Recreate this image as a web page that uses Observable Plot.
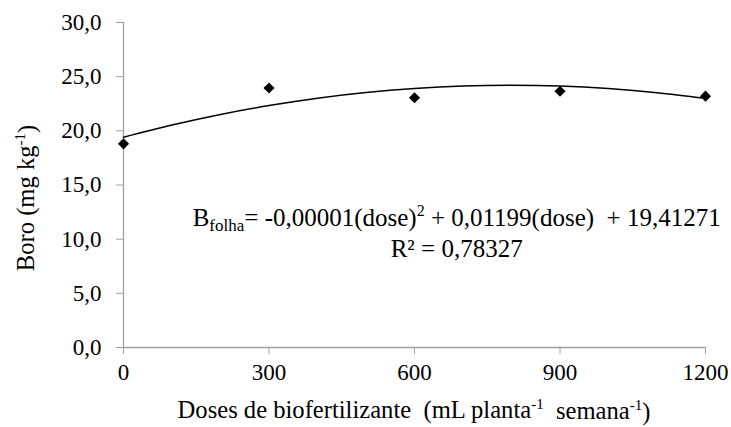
<!DOCTYPE html>
<html><head><meta charset="utf-8">
<script src="https://cdn.jsdelivr.net/npm/d3@7"></script>
<script src="https://cdn.jsdelivr.net/npm/@observablehq/plot@0.6"></script>
<style>
body{margin:0;background:#fff;}
svg, svg text{font-family:'Liberation Serif','Times New Roman',serif !important;}
</style>
</head><body><div id="chart"></div>
<script>
// Observed data
const doses = [0, 300, 600, 900, 1200];
const boro = [18.8, 23.95, 23.05, 23.65, 23.2];
// Trend curve
const curveDoses = [0, 100, 200, 300, 400, 500, 600, 700, 800, 900, 1000, 1100, 1200];
const curveBoro = [19.41, 20.53, 21.51, 22.33, 23.01, 23.53, 23.90, 24.13, 24.20, 24.13, 23.90, 23.52, 23.00];
const xTicks = [0, 300, 600, 900, 1200];
const yTicks = [0, 5, 10, 15, 20, 25, 30];

const pts = doses.map((d, i) => ({dose: d, boro: boro[i]}));
const curve = curveDoses.map((d, i) => ({dose: d, boro: curveBoro[i]}));
const fmt = d => d.toFixed(1).replace(".", ",");
const axisColor = "#a0a0a0";
const TFS = 23;   // tick labels
const FS = 24.6;  // axis titles
const EFS = 25;   // equation
const SUP = 15;

const plot = Plot.plot({
  width: 731, height: 427,
  marginLeft: 123, marginRight: 26, marginTop: 22, marginBottom: 80,
  style: {fontSize: TFS + "px", color: "#000", background: "#fff"},
  x: {domain: [0, 1200]},
  y: {domain: [0, 30]},
  marks: [
    Plot.ruleX([0], {stroke: axisColor, strokeWidth: 1.3}),
    Plot.ruleY([0], {stroke: axisColor, strokeWidth: 1.3}),
    Plot.axisY(yTicks, {tickFormat: fmt, tickSize: 7, tickPadding: 15, stroke: axisColor, fill: "#000", fontSize: TFS, label: null}),
    Plot.axisX(xTicks, {tickFormat: d => String(d), tickSize: 7, tickPadding: 9, stroke: axisColor, fill: "#000", fontSize: TFS, label: null}),
    Plot.line(curve, {x: "dose", y: "boro", curve: "natural", stroke: "#000", strokeWidth: 1.5}),
    Plot.dot(pts, {x: "dose", y: "boro", symbol: "diamond2", r: 5, fill: "#000", stroke: "none"})
  ]
});
document.getElementById("chart").appendChild(plot);

const svg = d3.select(plot);
const xs = plot.scale("x"), ys = plot.scale("y");
// y-axis title
const yt = svg.append("text").attr("transform", `translate(34,198) rotate(-90)`)
  .attr("text-anchor", "middle").attr("font-size", FS).attr("fill", "#000");
yt.append("tspan").text("Boro (mg kg");
yt.append("tspan").attr("font-size", SUP).attr("dy", "-0.6em").text("-1");
yt.append("tspan").attr("dy", "0.4em").text(")");
// x-axis title
const xt = svg.append("text").attr("x", 414).attr("y", 418)
  .attr("text-anchor", "middle").attr("font-size", FS).attr("fill", "#000");
xt.append("tspan").text("Doses de biofertilizante  (mL planta");
xt.append("tspan").attr("font-size", SUP).attr("dy", "-0.6em").text("-1");
xt.append("tspan").attr("dy", "0.4em").text("  semana");
xt.append("tspan").attr("font-size", SUP).attr("dy", "-0.6em").text("-1");
xt.append("tspan").attr("dy", "0.4em").text(")");
// equation
const ex = xs.apply(688);
const e1 = svg.append("text").attr("x", ex).attr("y", ys.apply(11.17))
  .attr("text-anchor", "middle").attr("font-size", EFS).attr("fill", "#000");
e1.append("tspan").text("B");
e1.append("tspan").attr("font-size", 17).attr("dy", 5).text("folha");
e1.append("tspan").attr("dy", -5).text("= -0,00001(dose)");
e1.append("tspan").attr("font-size", 16).attr("dy", "-0.6em").text("2");
e1.append("tspan").attr("dy", "0.384em").text(" + 0,01199(dose)  + 19,41271");
svg.append("text").attr("x", ex).attr("y", ys.apply(8.31))
  .attr("text-anchor", "middle").attr("font-size", EFS).attr("fill", "#000")
  .text("R² = 0,78327");
svg.selectAll("text").style("font-family", "'Liberation Serif', serif");
</script>
</body></html>
